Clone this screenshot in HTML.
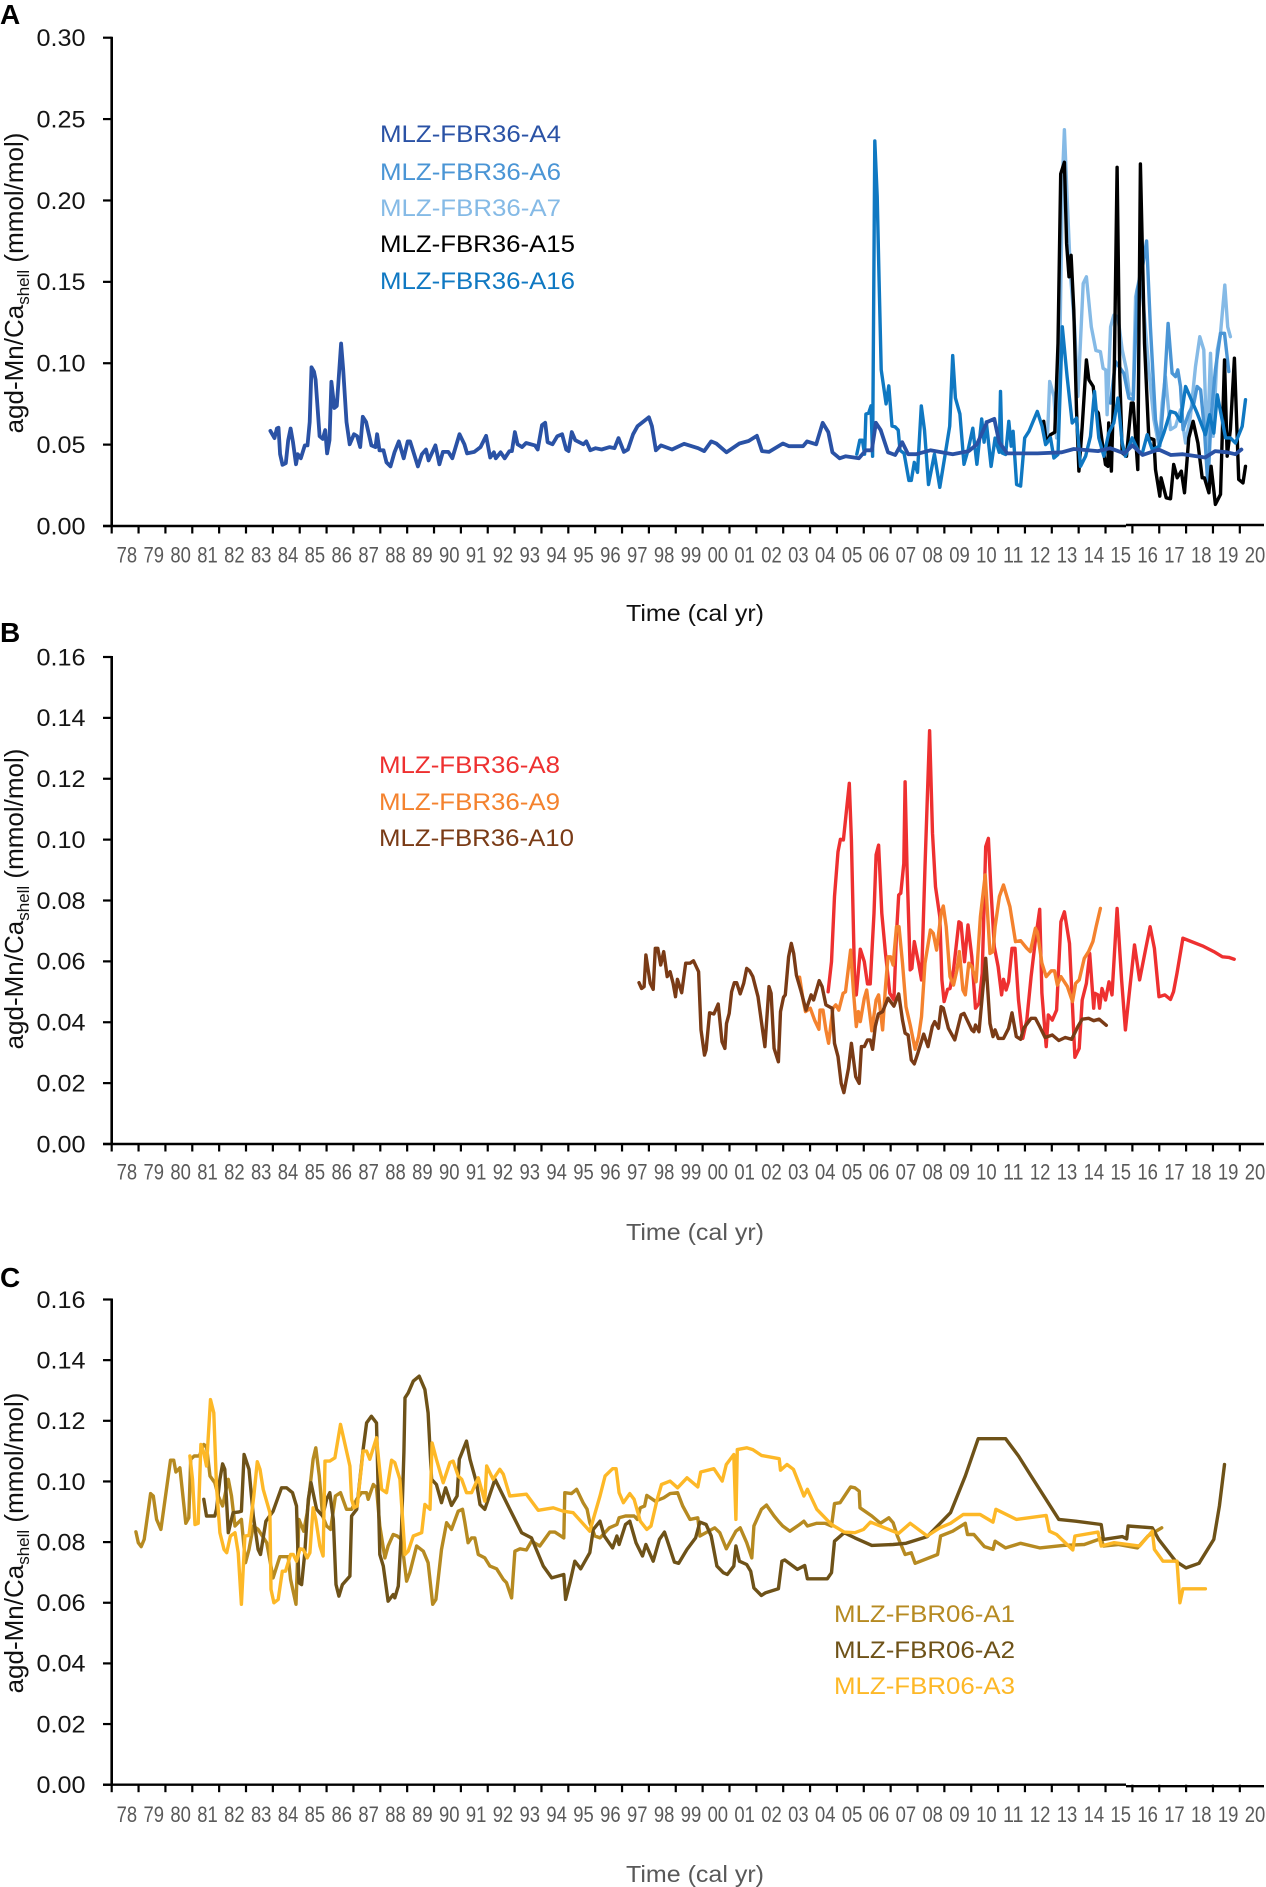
<!DOCTYPE html>
<html lang="en">
<head>
<meta charset="utf-8">
<title>agd-Mn/Ca shell time series</title>
<style>
html,body{margin:0;padding:0;background:#fff;}
svg{display:block;filter:blur(0.35px);}
text{font-family:"Liberation Sans",sans-serif;}
</style>
</head>
<body>
<svg id="figure" xmlns="http://www.w3.org/2000/svg" width="1266" height="1887" viewBox="0 0 1266 1887">
  <rect x="0" y="0" width="1266" height="1887" fill="#fff"/>

  <text x="0" y="24" font-size="28" font-weight="bold" fill="#000">A</text>
  <text x="0" y="642" font-size="28" font-weight="bold" fill="#000">B</text>
  <text x="0" y="1287" font-size="28" font-weight="bold" fill="#000">C</text>

  <text transform="translate(23,283) rotate(-90)" text-anchor="middle" font-size="26" fill="#111">agd-Mn/Ca<tspan font-size="17" dy="6">shell</tspan><tspan dy="-6"> (mmol/mol)</tspan></text>
  <text transform="translate(23,899) rotate(-90)" text-anchor="middle" font-size="26" fill="#111">agd-Mn/Ca<tspan font-size="17" dy="6">shell</tspan><tspan dy="-6"> (mmol/mol)</tspan></text>
  <text transform="translate(23,1543) rotate(-90)" text-anchor="middle" font-size="26" fill="#111">agd-Mn/Ca<tspan font-size="17" dy="6">shell</tspan><tspan dy="-6"> (mmol/mol)</tspan></text>

  <text x="695" y="621" text-anchor="middle" font-size="23" fill="#111" textLength="138" lengthAdjust="spacingAndGlyphs">Time (cal yr)</text>
  <text x="695" y="1240" text-anchor="middle" font-size="23" fill="#595959" textLength="138" lengthAdjust="spacingAndGlyphs">Time (cal yr)</text>
  <text x="695" y="1882" text-anchor="middle" font-size="23" fill="#595959" textLength="138" lengthAdjust="spacingAndGlyphs">Time (cal yr)</text>

  <g font-size="24">
    <text x="380" y="142" fill="#2a52a5" textLength="181" lengthAdjust="spacingAndGlyphs">MLZ-FBR36-A4</text>
    <text x="380" y="180" fill="#4a95d5" textLength="181" lengthAdjust="spacingAndGlyphs">MLZ-FBR36-A6</text>
    <text x="380" y="216" fill="#85bae6" textLength="181" lengthAdjust="spacingAndGlyphs">MLZ-FBR36-A7</text>
    <text x="380" y="252" fill="#000000" textLength="195" lengthAdjust="spacingAndGlyphs">MLZ-FBR36-A15</text>
    <text x="380" y="289" fill="#0f78c2" textLength="195" lengthAdjust="spacingAndGlyphs">MLZ-FBR36-A16</text>
  </g>
  <g font-size="24">
    <text x="379" y="773" fill="#ee3030" textLength="181" lengthAdjust="spacingAndGlyphs">MLZ-FBR36-A8</text>
    <text x="379" y="810" fill="#f4822e" textLength="181" lengthAdjust="spacingAndGlyphs">MLZ-FBR36-A9</text>
    <text x="379" y="846" fill="#7a3b16" textLength="195" lengthAdjust="spacingAndGlyphs">MLZ-FBR36-A10</text>
  </g>
  <g font-size="24">
    <text x="834" y="1622" fill="#b68a21" textLength="181" lengthAdjust="spacingAndGlyphs">MLZ-FBR06-A1</text>
    <text x="834" y="1658" fill="#6e5218" textLength="181" lengthAdjust="spacingAndGlyphs">MLZ-FBR06-A2</text>
    <text x="834" y="1694" fill="#fdb827" textLength="181" lengthAdjust="spacingAndGlyphs">MLZ-FBR06-A3</text>
  </g>
</svg>
<script>
// Time values are years since 1900 (e.g. 83.91 = 1983.91, 105.10 = 2005.10).
const xCategories = ['78','79','80','81','82','83','84','85','86','87','88','89','90','91','92','93','94','95','96','97','98','99','00','01','02','03','04','05','06','07','08','09','10','11','12','13','14','15','16','17','18','19','20'];
const yTicksA = [0,0.05,0.10,0.15,0.20,0.25,0.30];
const yTickLabelsA = ['0.00','0.05','0.10','0.15','0.20','0.25','0.30'];
const yTicksBC = [0,0.02,0.04,0.06,0.08,0.10,0.12,0.14,0.16];
const yTickLabelsBC = ['0.00','0.02','0.04','0.06','0.08','0.10','0.12','0.14','0.16'];

const a4Years = [83.91,84.06,84.15,84.21,84.27,84.36,84.48,84.57,84.66,84.75,84.86,84.93,85.04,85.19,85.29,85.37,85.44,85.53,85.59,85.74,85.86,85.95,86.02,86.11,86.18,86.29,86.38,86.54,86.62,86.74,86.86,87.02,87.14,87.25,87.35,87.47,87.67,87.82,87.88,87.97,88.12,88.23,88.38,88.53,88.69,88.87,89.02,89.11,89.26,89.40,89.55,89.70,89.80,90.05,90.20,90.33,90.53,90.68,90.95,91.13,91.23,91.50,91.73,91.94,92.09,92.23,92.30,92.48,92.63,92.81,92.90,93.01,93.11,93.28,93.43,93.76,93.86,94.02,94.14,94.23,94.41,94.59,94.77,94.92,95.01,95.13,95.26,95.56,95.67,95.82,96.01,96.24,96.54,96.72,96.87,97.07,97.22,97.41,97.58,98.00,98.11,98.26,98.45,98.86,99.31,99.83,100.06,100.32,100.51,100.89,101.37,101.71,102.02,102.21,102.47,102.99,103.22,103.74,103.89,104.23,104.47,104.68,104.83,105.10,105.32,105.82,106.08,106.30,106.45,106.63,106.90,107.17,107.43,107.65,107.95,108.48,109.31,109.91,110.21,110.59,110.86,111.04,111.34,112.47,113.37,113.82,114.72,115.17,115.70,116.00,116.38,116.98,117.43,117.88,118.71,119.08,119.53,119.83,120.06];
const a4Values = [.0584,.0540,.0599,.0604,.0441,.0376,.0386,.0527,.0599,.0515,.0379,.0441,.0416,.0495,.0495,.0639,.0975,.0948,.0899,.0552,.0535,.0589,.0446,.0527,.0886,.0725,.0738,.1121,.0960,.0639,.0502,.0564,.0552,.0485,.0671,.0639,.0495,.0485,.0564,.0465,.0465,.0391,.0366,.0453,.0520,.0416,.0520,.0520,.0441,.0366,.0441,.0470,.0403,.0495,.0379,.0455,.0455,.0416,.0564,.0502,.0446,.0455,.0485,.0554,.0421,.0453,.0416,.0453,.0416,.0460,.0460,.0577,.0502,.0485,.0510,.0495,.0470,.0619,.0634,.0515,.0502,.0552,.0564,.0470,.0460,.0577,.0527,.0502,.0520,.0465,.0478,.0470,.0485,.0478,.0540,.0455,.0470,.0564,.0614,.0668,.0614,.0465,.0495,.0470,.0505,.0478,.0460,.0520,.0507,.0453,.0507,.0522,.0554,.0460,.0455,.0507,.0490,.0490,.0520,.0502,.0634,.0577,.0453,.0416,.0428,.0416,.0465,.0465,.0634,.0589,.0453,.0436,.0515,.0441,.0441,.0465,.0441,.0460,.0502,.0639,.0658,.0515,.0446,.0446,.0453,.0473,.0460,.0478,.0446,.0495,.0436,.0470,.0436,.0441,.0421,.0460,.0453,.0441,.0470];

const a7Years = [112.83,112.92,113.08,113.18,113.30,113.40,113.47,113.57,113.70,113.85,113.97,114.17,114.29,114.47,114.64,114.81,114.91,115.01,115.06,115.19,115.31,115.46,115.62,115.78,115.88,116.03,116.12,116.30,116.43,116.61,116.80,116.99,117.11,117.23,117.42,117.61,117.79,117.98,118.16,118.35,118.51,118.66,118.78,118.91,119.01,119.16,119.28,119.44,119.55,119.65];
const a7Values = [.0510,.0888,.0796,.0541,.1122,.2143,.2435,.2020,.1531,.1224,.0796,.1490,.1531,.1224,.1078,.1071,.0969,.0959,.0684,.1224,.1296,.1286,.1082,.0959,.0816,.0806,.1408,.1551,.1327,.0959,.0653,.0490,.0755,.0918,.0592,.0612,.0714,.0510,.0673,.0980,.1163,.1082,.0449,.1061,.0551,.1082,.1184,.1480,.1224,.1163];

const a6Years = [115.19,115.37,115.68,115.87,116.03,116.18,116.36,116.53,116.67,116.86,117.02,117.17,117.33,117.48,117.61,117.69,117.79,117.89,118.10,118.29,118.41,118.54,118.68,118.81,118.93,119.09,119.28,119.43,119.59];
const a6Values = [.0755,.1010,.0939,.0786,.0776,.1449,.1571,.1751,.1224,.0653,.0490,.0796,.1245,.0939,.0918,.0959,.0857,.0592,.0694,.0755,.0857,.0837,.0592,.0245,.0673,.0959,.1184,.1184,.0949];

const a15Years = [112.70,112.80,112.95,113.11,113.23,113.33,113.47,113.55,113.64,113.72,113.82,113.92,114.01,114.13,114.29,114.38,114.54,114.63,114.73,114.88,115.00,115.09,115.12,115.22,115.33,115.43,115.53,115.62,115.78,115.96,116.03,116.20,116.30,116.45,116.61,116.80,116.86,117.02,117.07,117.26,117.42,117.54,117.67,117.82,117.94,118.10,118.26,118.44,118.60,118.68,118.85,118.93,119.09,119.28,119.43,119.53,119.65,119.80,119.96,120.12,120.21];
const a15Values = [.0643,.0510,.0561,.0576,.1122,.2163,.2235,.1735,.1531,.1663,.1327,.0714,.0337,.0612,.1020,.0898,.0857,.0714,.0694,.0510,.0378,.0367,.0633,.0337,.1000,.2204,.0918,.0449,.0429,.0755,.0755,.0347,.2224,.1122,.0541,.0531,.0347,.0184,.0296,.0173,.0167,.0378,.0296,.0337,.0204,.0541,.0643,.0510,.0296,.0296,.0204,.0367,.0133,.0194,.1020,.0429,.0592,.1031,.0286,.0265,.0367];

const a16Years = [105.74,105.85,105.95,106.03,106.08,106.18,106.27,106.33,106.41,106.50,106.57,106.65,106.83,106.93,107.05,107.17,107.28,107.35,107.50,107.68,107.77,107.88,108.00,108.14,108.26,108.41,108.63,108.83,109.08,109.20,109.31,109.41,109.58,109.73,109.88,110.06,110.21,110.39,110.48,110.56,110.74,110.89,111.04,111.09,111.15,111.28,111.40,111.49,111.56,111.69,111.84,111.99,112.15,112.46,112.64,112.77,112.95,113.08,113.23,113.39,113.57,113.76,113.92,114.07,114.26,114.44,114.59,114.75,114.94,115.12,115.31,115.46,115.62,115.74,115.99,116.20,116.36,116.55,116.74,116.99,117.17,117.42,117.61,117.79,117.98,118.41,118.72,118.88,119.03,119.16,119.34,119.47,119.65,119.84,120.09,120.21];
const a16Values = [.0441,.0527,.0527,.0441,.0688,.0693,.0738,.0428,.2366,.2025,.1505,.0960,.0750,.0861,.0614,.0609,.0589,.0465,.0446,.0280,.0280,.0391,.0329,.0738,.0589,.0255,.0441,.0238,.0490,.0614,.1047,.0787,.0688,.0379,.0465,.0601,.0379,.0658,.0515,.0639,.0366,.0540,.0453,.0827,.0449,.0439,.0643,.0490,.0582,.0255,.0245,.0541,.0582,.0704,.0612,.0500,.0541,.0418,.0439,.1224,.0918,.0633,.0663,.0367,.0429,.0551,.0827,.0541,.0429,.0571,.0633,.0786,.0510,.0429,.0541,.0469,.0439,.0561,.0469,.0490,.0571,.0704,.0694,.0643,.0857,.0694,.0561,.0684,.0571,.0806,.0653,.0541,.0541,.0510,.0612,.0776];

const a8Years = [104.67,104.80,104.91,105.04,105.13,105.24,105.46,105.54,105.67,105.72,105.87,106.02,106.14,106.24,106.38,106.46,106.55,106.67,106.81,106.97,107.12,107.22,107.30,107.38,107.49,107.54,107.61,107.73,107.79,107.88,108.04,108.15,108.28,108.45,108.56,108.67,108.83,108.91,108.99,109.12,109.21,109.34,109.54,109.62,109.75,109.88,110.02,110.16,110.29,110.41,110.54,110.64,110.73,110.86,111.00,111.13,111.20,111.30,111.39,111.52,111.63,111.76,111.92,112.07,112.23,112.39,112.55,112.63,112.79,112.87,113.02,113.18,113.34,113.47,113.66,113.86,114.02,114.13,114.29,114.41,114.56,114.60,114.72,114.78,114.87,115.00,115.13,115.24,115.43,115.60,115.74,115.87,116.08,116.27,116.50,116.66,116.82,116.99,117.21,117.42,117.53,117.66,117.88,118.00,118.61,119.03,119.35,119.59,119.79];
const a8Values = [.0500,.0599,.0813,.0960,.1001,.0999,.1185,.0999,.0495,.0490,.0640,.0599,.0526,.0526,.0758,.0950,.0982,.0758,.0626,.0495,.0473,.0692,.0818,.0824,.0922,.1190,.0911,.0572,.0577,.0665,.0594,.0539,.0911,.1358,.1021,.0845,.0747,.0539,.0468,.0508,.0511,.0572,.0730,.0725,.0599,.0720,.0615,.0446,.0462,.0561,.0977,.1004,.0845,.0648,.0583,.0490,.0541,.0506,.0533,.0643,.0643,.0473,.0347,.0407,.0550,.0670,.0771,.0495,.0320,.0424,.0407,.0440,.0730,.0763,.0659,.0285,.0314,.0473,.0528,.0626,.0446,.0495,.0490,.0446,.0511,.0473,.0533,.0490,.0774,.0539,.0375,.0484,.0654,.0539,.0643,.0714,.0643,.0484,.0490,.0475,.0500,.0561,.0676,.0672,.0651,.0632,.0615,.0613,.0607];

const a9Years = [103.61,103.74,103.83,104.01,104.17,104.33,104.37,104.48,104.59,104.69,104.85,104.96,105.07,105.23,105.32,105.51,105.62,105.72,105.80,105.87,106.02,106.11,106.22,106.30,106.46,106.55,106.70,106.81,106.90,107.00,107.09,107.22,107.31,107.44,107.57,107.73,107.91,108.04,108.15,108.28,108.48,108.59,108.71,108.88,108.96,109.07,109.21,109.34,109.47,109.56,109.69,109.78,109.91,110.02,110.18,110.34,110.52,110.70,110.81,110.89,111.05,111.20,111.44,111.65,111.84,112.07,112.20,112.39,112.47,112.63,112.79,112.98,113.10,113.21,113.34,113.58,113.77,113.89,114.02,114.21,114.37,114.53,114.65,114.81];
const a9Values = [.0548,.0473,.0435,.0446,.0407,.0377,.0440,.0440,.0375,.0331,.0446,.0457,.0440,.0495,.0500,.0637,.0495,.0386,.0435,.0402,.0479,.0506,.0429,.0372,.0473,.0490,.0375,.0517,.0615,.0615,.0588,.0714,.0714,.0594,.0451,.0391,.0311,.0353,.0418,.0594,.0703,.0692,.0637,.0758,.0782,.0714,.0550,.0522,.0572,.0632,.0506,.0490,.0594,.0583,.0533,.0747,.0884,.0626,.0632,.0714,.0813,.0851,.0780,.0665,.0668,.0643,.0632,.0709,.0692,.0594,.0550,.0569,.0569,.0522,.0550,.0517,.0468,.0528,.0539,.0610,.0632,.0665,.0714,.0774];

const a10Years = [97.63,97.73,97.82,97.89,98.05,98.16,98.24,98.33,98.44,98.55,98.68,98.79,98.90,98.99,99.06,99.22,99.37,99.53,99.66,99.85,99.94,100.07,100.13,100.26,100.42,100.58,100.72,100.83,100.89,100.99,101.08,101.18,101.27,101.40,101.53,101.64,101.75,101.87,102.06,102.19,102.32,102.47,102.55,102.66,102.82,102.90,103.01,103.08,103.20,103.30,103.39,103.49,103.65,103.85,104.04,104.13,104.34,104.45,104.59,104.82,104.91,105.04,105.16,105.26,105.43,105.54,105.70,105.83,105.91,106.02,106.14,106.24,106.33,106.43,106.54,106.70,106.90,107.12,107.30,107.44,107.54,107.65,107.77,107.88,108.01,108.23,108.39,108.55,108.64,108.78,108.88,108.96,109.15,109.39,109.62,109.73,110.02,110.10,110.16,110.29,110.54,110.70,110.81,110.89,111.01,111.20,111.39,111.52,111.68,111.84,111.95,112.23,112.39,112.55,112.75,113.02,113.26,113.50,113.74,113.97,114.13,114.37,114.56,114.76,115.03];
const a10Values = [.0530,.0511,.0517,.0621,.0528,.0508,.0643,.0643,.0588,.0632,.0550,.0566,.0528,.0484,.0541,.0497,.0594,.0594,.0602,.0566,.0375,.0292,.0309,.0431,.0427,.0460,.0336,.0314,.0396,.0429,.0500,.0530,.0530,.0493,.0528,.0577,.0569,.0550,.0484,.0402,.0320,.0517,.0495,.0314,.0270,.0435,.0482,.0490,.0615,.0659,.0626,.0555,.0506,.0440,.0490,.0473,.0537,.0517,.0457,.0446,.0331,.0287,.0199,.0169,.0249,.0331,.0221,.0199,.0320,.0320,.0342,.0342,.0311,.0386,.0427,.0435,.0479,.0453,.0493,.0407,.0364,.0358,.0276,.0263,.0298,.0361,.0320,.0386,.0402,.0380,.0451,.0446,.0380,.0342,.0424,.0429,.0375,.0369,.0391,.0369,.0610,.0396,.0353,.0375,.0347,.0347,.0380,.0431,.0353,.0344,.0380,.0413,.0413,.0386,.0350,.0358,.0340,.0350,.0344,.0386,.0410,.0413,.0405,.0410,.0390];

const fbr1Years = [78.90,78.99,79.10,79.21,79.45,79.55,79.67,79.83,80.19,80.31,80.39,80.54,80.76,80.87,80.94,81.07,81.26,81.43,81.53,81.66,81.84,81.97,82.13,82.34,82.46,82.59,82.71,82.83,82.98,83.11,83.27,83.45,83.77,84.01,84.26,84.57,84.66,84.86,84.97,85.15,85.28,85.50,85.60,85.73,85.85,86.00,86.15,86.33,86.52,86.74,86.93,87.12,87.30,87.49,87.55,87.74,87.86,87.98,88.17,88.29,88.48,88.63,88.79,88.98,89.10,89.35,89.60,89.78,89.95,90.07,90.28,90.47,90.65,90.90,91.06,91.15,91.27,91.40,91.52,91.65,91.89,92.08,92.33,92.58,92.70,92.89,93.01,93.20,93.44,93.63,93.94,94.31,94.50,94.83,94.87,95.12,95.31,95.55,95.70,95.80,95.99,96.18,96.53,96.81,96.89,97.13,97.45,97.57,97.68,97.84,97.92,98.24,98.55,98.79,99.07,99.26,99.53,99.82,99.90,100.45,100.64,100.88,101.24,101.40,101.64,101.83,101.91,102.19,102.38,102.66,102.82,102.98,103.25,103.61,103.77,103.90,104.25,104.56,104.80,104.91,105.12,105.51,105.67,105.83,105.86,106.30,106.62,106.93,107.09,107.25,107.54,107.77,107.91,108.75,108.86,109.31,109.78,109.86,110.10,110.49,110.81,110.89,111.28,111.84,112.55,113.42,114.21,114.84,114.92,115.47,116.19,116.58,117.09];
const fbr1Values = [.0834,.0798,.0785,.0809,.0960,.0952,.0875,.0842,.1070,.1070,.1031,.1045,.0862,.0880,.1073,.1084,.1084,.1122,.1116,.1018,.0996,.0952,.0919,.1007,.0952,.0853,.0864,.0875,.0732,.0776,.0853,.0842,.0798,.0682,.0752,.0752,.0677,.0595,.0875,.0836,.0897,.1073,.1111,.1018,.0886,.0853,.0842,.0952,.0963,.0908,.0908,.0941,.0963,.0963,.0941,.0990,.0979,.0853,.0748,.0787,.0825,.0820,.0809,.0671,.0699,.0787,.0770,.0732,.0595,.0611,.0776,.0864,.0842,.0902,.0908,.0864,.0798,.0814,.0814,.0759,.0748,.0721,.0712,.0677,.0666,.0616,.0770,.0778,.0774,.0803,.0787,.0833,.0833,.0814,.0963,.0960,.0974,.0930,.0908,.0864,.0820,.0814,.0847,.0858,.0880,.0886,.0886,.0875,.0913,.0919,.0954,.0935,.0946,.0960,.0963,.0919,.0875,.0880,.0820,.0847,.0831,.0778,.0836,.0847,.0798,.0748,.0853,.0908,.0922,.0886,.0869,.0853,.0836,.0858,.0869,.0853,.0862,.0862,.0853,.0927,.0930,.0982,.0979,.0968,.0913,.0886,.0862,.0880,.0864,.0820,.0759,.0765,.0730,.0759,.0820,.0836,.0862,.0825,.0825,.0785,.0776,.0803,.0781,.0796,.0781,.0789,.0792,.0812,.0787,.0792,.0781,.0820,.0847];

const fbr2Years = [81.43,81.53,81.84,81.90,82.03,82.13,82.21,82.34,82.52,82.71,82.83,82.93,83.11,83.27,83.45,83.54,83.74,84.01,84.32,84.51,84.73,84.88,84.97,85.07,85.19,85.32,85.42,85.63,85.85,86.00,86.12,86.25,86.35,86.46,86.59,86.87,86.93,87.12,87.36,87.49,87.67,87.86,87.98,88.11,88.29,88.48,88.54,88.67,88.79,88.88,88.92,89.04,89.23,89.45,89.66,89.78,89.91,90.09,90.28,90.43,90.65,90.86,90.94,91.21,91.34,91.58,91.71,91.89,92.27,92.82,93.26,93.63,94.07,94.38,94.83,94.90,95.06,95.24,95.46,95.80,95.93,96.18,96.34,96.65,96.81,96.89,97.13,97.29,97.52,97.76,97.89,98.16,98.39,98.58,98.71,98.95,99.11,99.42,99.74,99.90,100.13,100.32,100.53,100.77,100.92,101.16,101.24,101.37,101.64,101.79,101.91,102.19,102.35,102.82,102.95,103.06,103.53,103.80,103.90,104.64,104.80,104.91,105.27,105.67,106.30,107.09,107.57,108.36,109.23,109.78,110.26,111.28,111.76,112.23,113.26,113.89,114.84,114.92,115.63,115.79,115.84,116.74,116.98,117.61,118.00,118.48,119.03,119.24,119.43];
const fbr2Values = [.0941,.0886,.0886,.0908,.1007,.1058,.1040,.0831,.0897,.0899,.0902,.1089,.1040,.0886,.0776,.0759,.0869,.0902,.0979,.0979,.0963,.0919,.0666,.0660,.0765,.0941,.0996,.0908,.0886,.0941,.0963,.0875,.0660,.0622,.0660,.0688,.0886,.0908,.1105,.1193,.1215,.1193,.0759,.0721,.0605,.0627,.0616,.0655,.0842,.1095,.1276,.1292,.1331,.1347,.1303,.1226,.1007,.0990,.0930,.0979,.0921,.0952,.1073,.1133,.1073,.0996,.0924,.0908,.1007,.0908,.0831,.0814,.0721,.0682,.0693,.0611,.0666,.0737,.0712,.0765,.0842,.0869,.0820,.0781,.0820,.0792,.0858,.0869,.0798,.0754,.0792,.0737,.0809,.0833,.0798,.0734,.0730,.0776,.0814,.0866,.0858,.0820,.0721,.0699,.0693,.0721,.0787,.0737,.0726,.0704,.0649,.0624,.0633,.0646,.0737,.0741,.0710,.0723,.0679,.0679,.0699,.0803,.0831,.0814,.0789,.0792,.0796,.0818,.0897,.1018,.1141,.1141,.1084,.1018,.0875,.0869,.0858,.0809,.0818,.0811,.0853,.0847,.0809,.0737,.0715,.0730,.0809,.0919,.1056];

const fbr3Years = [80.91,81.01,81.10,81.22,81.32,81.43,81.53,81.68,81.80,81.90,82.03,82.18,82.28,82.42,82.59,82.71,82.83,82.96,83.11,83.29,83.42,83.52,83.64,83.89,83.93,84.04,84.20,84.35,84.47,84.66,84.76,84.88,85.01,85.13,85.28,85.38,85.50,85.60,85.75,85.87,85.94,86.12,86.31,86.52,86.87,86.93,87.02,87.14,87.36,87.49,87.61,87.86,88.05,88.23,88.42,88.54,88.73,88.92,89.04,89.23,89.54,89.66,89.85,89.93,90.09,90.34,90.59,90.71,90.90,91.03,91.21,91.40,91.65,91.89,91.96,92.20,92.45,92.58,92.82,93.44,93.88,94.44,94.81,95.18,95.80,96.18,96.37,96.65,96.78,96.89,97.05,97.29,97.45,97.68,97.92,98.08,98.31,98.47,98.79,99.07,99.42,99.82,99.93,100.42,100.73,100.88,101.16,101.24,101.29,101.64,101.87,102.19,102.85,102.90,103.14,103.38,103.77,103.90,104.25,104.80,105.27,105.67,105.99,106.25,107.17,107.30,107.73,108.36,108.83,109.23,109.70,110.33,110.81,110.92,111.68,112.79,112.91,113.18,113.78,113.86,114.72,114.84,115.32,116.27,116.74,116.82,117.14,117.66,117.77,117.88,118.72];
const fbr3Values = [.1084,.1007,.0858,.0862,.1122,.1095,.1051,.1270,.1226,.0985,.0831,.0776,.0765,.0820,.0831,.0765,.0595,.0820,.0822,.0952,.1065,.1040,.0974,.0897,.0644,.0600,.0611,.0704,.0704,.0759,.0759,.0737,.0778,.0776,.0748,.0765,.0913,.0875,.0787,.0754,.1067,.1067,.1078,.1188,.1051,.0941,.0913,.0919,.1100,.1100,.1073,.1144,.0974,.0963,.1070,.1062,.1007,.0759,.0770,.0820,.0831,.0924,.0908,.1127,.1073,.0996,.1062,.1067,.1018,.1007,.0963,.0963,.1012,.0935,.1051,.1007,.1040,.1024,.0952,.0958,.0905,.0913,.0902,.0897,.0836,.0952,.1018,.1042,.1042,.0963,.0930,.0960,.0941,.0869,.0842,.0853,.0941,.0990,.1001,.0979,.1012,.0982,.1031,.1042,.1001,.1056,.1089,.0875,.1105,.1111,.1105,.1086,.1075,.1037,.1056,.1040,.0952,.0974,.0908,.0858,.0833,.0831,.0842,.0866,.0833,.0829,.0862,.0820,.0847,.0862,.0891,.0891,.0866,.0908,.0875,.0888,.0836,.0825,.0774,.0820,.0833,.0787,.0798,.0787,.0836,.0776,.0737,.0737,.0600,.0646,.0646];

const SVGNS = 'http://www.w3.org/2000/svg';
const svg = document.getElementById('figure');

function xScale(t){
  return 111.7 + (t - 78) * 26.86;
}
function makeYScale(top, zero, max){
  return function(v){ return zero - (v / max) * (zero - top); };
}
function node(tag, attrs, parent){
  const el = document.createElementNS(SVGNS, tag);
  for (const k in attrs) el.setAttribute(k, attrs[k]);
  parent.appendChild(el);
  return el;
}

function drawAxes(panelId, top, zero, max, yTicks, yLabels, stepOffset, labelOffset){
  const yScale = makeYScale(top, zero, max);
  const g = node('g', {}, svg);
  
  

  const yAxis = node('line', {x1:111.7, x2:111.7, y1:top - 1, y2:zero + 1, stroke:'#000', 'stroke-width':2.6}, g);
  
  

  const stepX = stepOffset ? 1126 : 1264;
  const xAxis = node('line', {x1:103, x2:stepX, y1:zero, y2:zero, stroke:'#000', 'stroke-width':2.4}, g);
  
  
  if (stepOffset) {
    const xAxis2 = node('line', {x1:1126, x2:1264, y1:zero + stepOffset, y2:zero + stepOffset, stroke:'#000', 'stroke-width':2.4}, g);
    
    
  }

  yTicks.forEach(function(v, i){
    const y = yScale(v);
    const tick = node('line', {x1:103, x2:111.7, y1:y, y2:y, stroke:'#000', 'stroke-width':2.2}, g);
    
    
    const label = node('text', {x:85.5, y:y + 8.3, 'text-anchor':'end', 'font-size':24, fill:'#151515', textLength:49, lengthAdjust:'spacingAndGlyphs'}, g);
    
    
    label.textContent = yLabels[i];
  });

  xCategories.forEach(function(cat, i){
    const x = xScale(78 + i);
    const tick = node('line', {x1:x, x2:x, y1:zero, y2:zero + 7.5, stroke:'#000', 'stroke-width':2.2}, g);
    
    
    const label = node('text', {x:x + 15.2, y:zero + labelOffset, 'text-anchor':'middle', 'font-size':22, fill:'#595959', textLength:20.5, lengthAdjust:'spacingAndGlyphs'}, g);
    
    
    label.textContent = cat;
  });
}

function drawSeries(name, years, values, color, width, top, zero, max){
  const yScale = makeYScale(top, zero, max);
  let d = '';
  years.forEach(function(t, i){
    d += (i ? 'L' : 'M') + xScale(t).toFixed(1) + ' ' + yScale(values[i]).toFixed(1);
  });
  const path = node('path', {d:d, fill:'none', stroke:color, 'stroke-width':width, 'stroke-linejoin':'round', 'stroke-linecap':'round'}, svg);
  
  
}

drawAxes('a', 37.7, 526, 0.30, yTicksA, yTickLabelsA, -1, 36.5);
drawAxes('b', 657, 1144, 0.16, yTicksBC, yTickLabelsBC, 0, 35.5);
drawAxes('c', 1299.5, 1784.7, 0.16, yTicksBC, yTickLabelsBC, 1.5, 37.3);

drawSeries('series-a7', a7Years, a7Values, '#85bae6', 3.4, 37.7, 526, 0.30);
drawSeries('series-a6', a6Years, a6Values, '#4a95d5', 3.4, 37.7, 526, 0.30);
drawSeries('series-a15', a15Years, a15Values, '#000000', 3.4, 37.7, 526, 0.30);
drawSeries('series-a16', a16Years, a16Values, '#0f78c2', 3.4, 37.7, 526, 0.30);
drawSeries('series-a4', a4Years, a4Values, '#2a52a5', 3.8, 37.7, 526, 0.30);

drawSeries('series-a8', a8Years, a8Values, '#ee3030', 3.4, 657, 1144, 0.16);
drawSeries('series-a9', a9Years, a9Values, '#f4822e', 3.4, 657, 1144, 0.16);
drawSeries('series-a10', a10Years, a10Values, '#7a3b16', 3.4, 657, 1144, 0.16);

drawSeries('series-fbr06-a1', fbr1Years, fbr1Values, '#b68a21', 3.4, 1299.5, 1784.7, 0.16);
drawSeries('series-fbr06-a2', fbr2Years, fbr2Values, '#6e5218', 3.4, 1299.5, 1784.7, 0.16);
drawSeries('series-fbr06-a3', fbr3Years, fbr3Values, '#fdb827', 3.4, 1299.5, 1784.7, 0.16);
</script>
</body>
</html>
